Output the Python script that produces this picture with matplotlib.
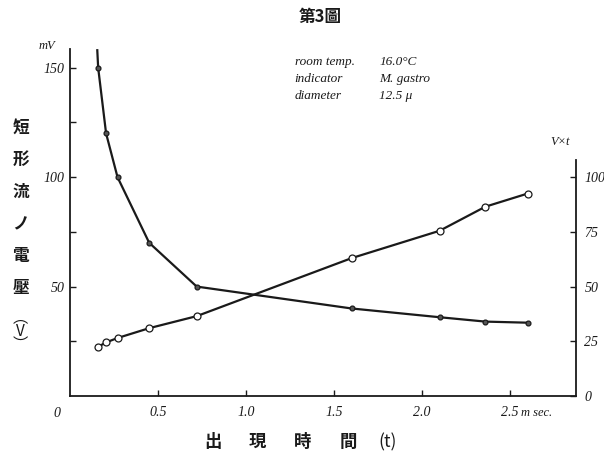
# 第3圖 - 短形流ノ電壓 vs 出現時間
import matplotlib.pyplot as plt

# measured points (t in msec)
t_ms = [0.16, 0.205, 0.27, 0.45, 0.72, 1.60, 2.10, 2.36, 2.60]
voltage = [150, 120, 100, 70, 50, 40, 36, 34, 33.5]       # mV
v_times_t = [22.5, 24.5, 26.5, 31, 36.5, 63, 75.5, 86.5, 92.5]

# the V curve keeps rising above the first point
curve_t = [0.155] + t_ms
curve_v = [158] + voltage

left_ticks = [25, 50, 75, 100, 125, 150]
left_labels = ["", "50", "", "100", "", "150"]
right_ticks = [0, 25, 50, 75, 100]
right_labels = ["0", "25", "50", "75", "100"]
x_ticks = [0.5, 1.0, 1.5, 2.0, 2.5]
x_labels = ["0.5", "1.0", "1.5", "2.0", "2.5"]

ink = "#1a1a1a"
num_font = dict(family="Liberation Serif", style="italic", size=10, color=ink)
cjk = ["Noto Sans CJK JP", "DejaVu Sans"]

fig = plt.figure(figsize=(6.04, 4.53), dpi=100)
ax = fig.add_axes([0.1159, 0.1258, 0.8377, 0.773])
ax2 = ax.twinx()

ax.plot(curve_t, curve_v, color=ink, lw=1.6, zorder=2)
ax.plot(t_ms, voltage, 'o', ms=3.5, mfc="#555555", mec=ink, mew=0.9, zorder=3)
ax2.plot(t_ms, v_times_t, color=ink, lw=1.6, zorder=2)
ax2.plot(t_ms, v_times_t, 'o', ms=5, mfc="white", mec=ink, mew=0.9, zorder=3)

for a in (ax, ax2):
    a.set_xlim(0, 2.875)
    a.set_ylim(0, 160)
    a.spines['top'].set_visible(False)
    for s in a.spines.values():
        s.set_linewidth(1.3)
        s.set_color(ink)

ax.spines['right'].set_visible(False)
ax.spines['left'].set_bounds(0, 158.5)
ax2.spines['left'].set_visible(False)
ax2.spines['bottom'].set_visible(False)
ax2.spines['right'].set_bounds(0, 108)

ax.set_yticks(left_ticks)
ax.set_yticklabels(left_labels, fontdict=num_font)
ax2.set_yticks(right_ticks)
ax2.set_yticklabels(right_labels, fontdict=num_font)
ax.set_xticks(x_ticks)
ax.set_xticklabels(x_labels, fontdict=num_font)
ax.tick_params(direction='in', length=4, width=1, color=ink, pad=4)
ax2.tick_params(direction='in', length=4, width=1, color=ink, pad=6)
ax.tick_params(axis='x', pad=7)

# axis words and units
ax.text(-0.03, 1.0, "mV", transform=ax.transAxes, ha='right', va='center',
        family="Liberation Serif", style="italic", fontsize=9, color=ink)
ax.text(-0.018, -0.049, "0", transform=ax.transAxes, ha='right', va='center', **num_font)
ax.text(2.56, -0.049, "m sec.", ha='left', va='center', family="Liberation Serif",
        style="italic", fontsize=9, color=ink, transform=ax.get_xaxis_transform())
fig.text(0.928, 0.686, "V×t", ha='center', va='center', family="Liberation Serif",
         style="italic", fontsize=9, color=ink)

# title
fig.text(0.530, 0.962, "第3圖", ha='center', va='center', family=cjk,
         fontsize=12, fontweight='bold', color=ink)

# condition notes
notes = [("room temp.", "16.0°C"), ("indicator", "M. gastro"), ("diameter", "12.5 μ")]
for i, (k, v) in enumerate(notes):
    y = 0.863 - i * 0.038
    fig.text(0.488, y, k, ha='left', va='center', family="Liberation Serif",
             style="italic", fontsize=9.5, color=ink)
    fig.text(0.628, y, v, ha='left', va='center', family="Liberation Serif",
             style="italic", fontsize=9.5, color=ink)

# vertical y label
ylabel_chars = ["短", "形", "流", "ノ", "電", "壓"]
for i, ch in enumerate(ylabel_chars):
    fig.text(0.034, 1 - (128 + i * 32) / 453, ch, ha='center', va='center',
             family=cjk, fontsize=12, fontweight='bold', color=ink)
fig.text(0.034, 1 - 331 / 453, "︵\nV\n︶", ha='center', va='center', family=cjk,
         fontsize=11, linespacing=0.75, color=ink)

# x label, wide-spaced characters
xlabel_parts = ["出", "現", "時", "間", "(t)"]
xlabel_x = [213, 257, 303, 348, 388]
for ch, px in zip(xlabel_parts, xlabel_x):
    fig.text(px / 604, 1 - 442 / 453, ch, ha='center', va='center',
             family=cjk, fontsize=12.5, fontweight='bold' if ch != "(t)" else 'normal',
             color=ink)

fig.savefig("out.png", dpi=100, facecolor="white")
